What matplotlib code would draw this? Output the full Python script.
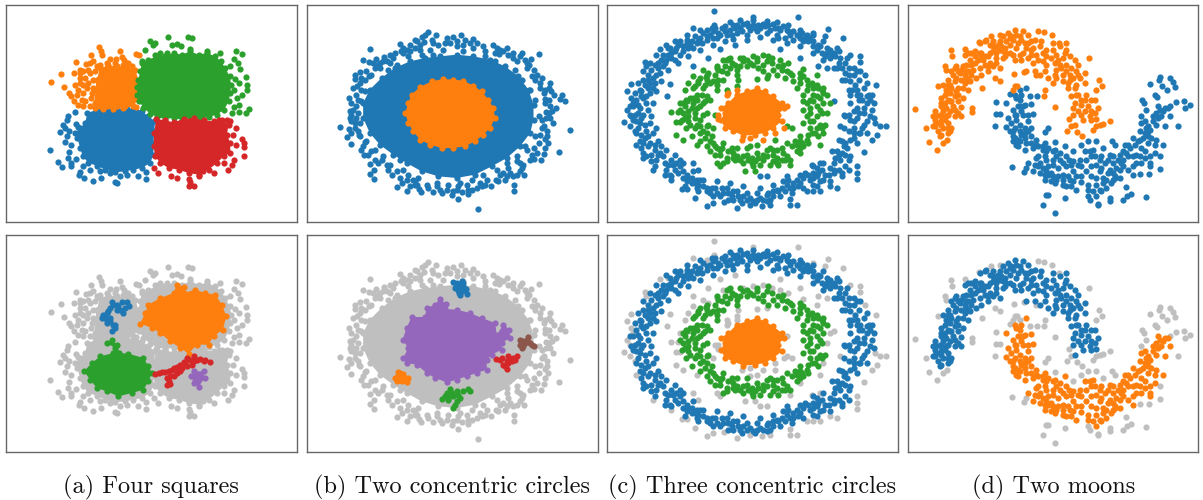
import numpy as np
from matplotlib import pyplot as plt

# all points, in the panel's own units (top left origin)
W = 1203
H = 500

captions = ["(a) Four squares", "(b) Two concentric circles", "(c) Three concentric circles", "(d) Two moons"]
caption_x = [151, 452, 752, 1054]

# Four squares: solid cores are outlines, the loose points are listed
sq_orange_core = [(300,205),(325,197),(350,200),(380,205),(405,210),(415,240),(415,270),(413,300),(400,320),(370,325),(340,328),(310,328),(285,325),(290,300),(285,270),(290,240)]
sq_orange = [(152,246),(183,224),(192,261),(229,187),(223,220),(273,166),(297,143),(302,155),(306,167),(361,155),(329,178),(349,178),(365,172),(372,180),(385,190),(408,163),(416,165),(258,193),(270,190),(280,185),(290,200),(240,210),(250,215),(265,210),(240,235),(255,235),(225,255),(207,280),(212,290),(222,305),(245,300),(272,295),(290,290),(235,270),(262,265),(250,320),(270,320),(300,320),(320,320),(350,320),(375,318),(408,322),(290,240),(280,265),(305,270),
    (240,220),(270,220),(285,215),(280,240),(265,250),(250,255),(240,250),(230,285),(250,280),(275,280),(255,305),(285,310),(235,315),(300,195),(320,190),(345,190),(370,195),(395,200)]
sq_green_core = [(425,190),(445,180),(470,170),(495,168),(520,160),(545,165),(570,155),(595,165),(620,160),(645,170),(662,185),(675,205),(688,230),(693,255),(690,280),(685,305),(672,330),(650,345),(625,352),(600,358),(570,352),(545,360),(520,355),(495,358),(470,352),(450,342),(430,325),(418,305),(412,285),(410,262),(415,240),(420,215)]
sq_green = [(502,111),(563,113),(576,115),(449,124),(465,130),(458,135),(516,137),(530,132),(542,140),(435,152),(570,147),(706,155),(725,164),(660,160),(620,155),(465,165),(480,160),(500,160),(700,178),(712,190),(720,207),(690,198),(736,232),(705,238),(715,250),(741,255),(739,272),(725,285),(710,295),(700,270),(745,327),(738,340),(715,315),(715,338),(700,322),(695,340),(425,185)]
sq_blue_core = [(262,340),(290,330),(320,328),(350,327),(380,328),(405,325),(425,335),(445,350),(465,365),(462,395),(460,430),(460,465),(450,490),(425,505),(400,510),(375,515),(345,518),(315,510),(290,498),(265,490),(248,470),(240,445),(232,415),(225,400),(240,385),(255,370)]
sq_blue = [(225,336),(205,350),(200,360),(188,377),(195,385),(180,398),(208,393),(227,372),(235,382),(200,410),(195,427),(212,435),(150,452),(206,458),(204,474),(228,478),(173,487),(213,490),(212,498),(187,503),(240,518),(236,527),(252,535),(279,544),(304,535),(345,548),(350,551),(360,528),(380,525),(415,530),(438,537),(437,516),(300,515),(330,520),(270,510),(250,500)]
sq_red_core = [(468,358),(495,362),(520,368),(550,358),(580,355),(610,362),(640,365),(665,360),(685,375),(680,405),(690,430),(690,460),(670,470),(650,490),(625,510),(595,525),(565,520),(535,510),(505,505),(480,490),(465,470),(460,440),(462,400)]
sq_red = [(708,384),(699,407),(725,418),(730,430),(732,441),(708,435),(731,468),(702,482),(695,495),(670,490),(682,512),(640,520),(608,515),(595,530),(565,538),(570,548),(565,558),(582,559),(530,535),(511,530),(472,520),(461,505),(680,360),(690,365),(655,360)]

# Four squares, clusters found
sq2_orange_core = [(530,165),(552,172),(552,190),(585,180),(615,190),(645,195),(665,225),(678,260),(668,300),(640,320),(625,345),(590,345),(565,372),(540,355),(510,335),(480,310),(455,295),(420,282),(435,250),(445,225),(480,205),(520,190)]
sq2_green_core = [(335,330),(350,345),(358,370),(385,372),(430,385),(445,410),(455,430),(445,455),(430,480),(395,490),(355,500),(320,485),(290,475),(270,450),(252,425),(275,400),(300,380),(340,370),(345,355),(320,340)]
sq2_purple_core = [(580,425),(610,425),(613,445),(595,472),(580,460),(573,440)]
sq2_blue = [(335,217),(350,225),(365,217),(380,217),(388,230),(370,250),(350,240),(330,235),(320,250),(307,265),(320,280),(345,287),(335,305),(315,265),(330,265),(325,245),(340,225),(360,240),(375,235),(340,285),(330,275),(345,295),(320,270),(310,255),(355,230)]
sq2_red = [(465,432),(485,428),(505,425),(520,415),(540,405),(560,385),(580,380),(600,387),(630,398),(560,410),(540,425),(520,440),(500,445),(500,465),(510,462),(580,395),(610,395),(545,415),(575,405),(475,430),(495,427),(515,420),(530,412),(550,398),(570,390),(590,390),(615,390),(555,400),(530,430),(510,440),(505,455)]

# Two circles
two_blue_core = [(210,270),(245,235),(285,205),(330,185),(375,175),(420,170),(470,165),(520,170),(570,180),(615,200),(655,230),(685,270),(700,315),(700,360),(690,400),(660,440),(620,475),(575,500),(525,525),(470,535),(415,530),(365,515),(320,490),(280,465),(240,435),(210,400),(190,355),(190,310)]
two_blue = [(385,97),(407,107),(365,113),(375,105),(459,113),(483,107),(519,117),(530,130),(345,122),(301,133),(330,137),(373,128),(578,136),(211,148),(302,155),(345,145),(415,135),(470,140),(620,145),(716,162),(665,160),(610,155),(596,162),(692,177),(253,172),(190,182),(207,186),(230,177),(232,195),(270,190),(225,205),(687,196),(700,211),(695,228),(180,217),(165,225),(165,238),(207,230),(720,250),(750,250),(747,265),(752,275),(172,258),(195,275),(170,285),(762,287),(785,287),(780,297),(795,303),(733,298),(147,295),(155,310),(168,320),(767,325),(736,336),(150,335),(155,345),(737,355),(757,370),(122,382),(810,390),(148,388),(155,400),(143,412),(179,407),(153,433),(740,395),(735,417),(743,430),(735,445),(195,428),(192,465),(776,458),(730,463),(702,477),(722,480),(211,494),(223,510),(212,524),(222,539),(669,497),(650,485),(672,527),(650,525),(640,530),(610,520),(588,540),(642,556),(642,575),(615,540),(573,560),(530,565),(290,563),(322,575),(330,560),(358,568),(363,578),(398,578),(300,535),(340,540),(265,510),(456,586),(475,598),(535,628),(485,578),(503,582),(440,570),
    (240,190),(280,175),(310,160),(330,155),(360,150),(390,150),(430,150),(450,130),(490,135),(520,145),(555,155),(585,160),(640,175),(660,170),(680,205),(705,240),(720,265),(735,310),(745,340),(730,380),(720,405),(700,445),(680,450),(660,490),(625,505),(600,525),(560,540),(540,550),(500,555),(460,575),(420,570),(380,555),(345,545),(310,510),(270,495),(245,480),(215,455),(190,440),(165,385),(155,365),(170,355),(185,270),(195,240),(215,225),(240,205),(260,185),
    (185,305),(175,340),(180,370),(200,425),(225,450),(250,470),(300,480),(325,525),(355,535),(410,550),(445,555),(480,550),(515,540),(550,525),(590,510),(620,490),(650,470),(675,440),(705,410),(715,350),(705,300),(690,270),(665,240),(645,210),(585,185),(555,170),(490,155),(400,165),(365,165),(325,170),(290,195),(265,210),(220,270),
    (175,300),(160,330),(165,370),(180,410),(205,465),(235,490),(260,495),(290,515),(320,540),(350,555),(385,565),(425,580),(470,570),(515,570),(555,555),(595,545),(630,520),(665,505),(695,465),(715,430),(725,385),(725,360),(750,320),(745,300),(730,280),(710,225),(680,190),(650,185),(625,165),(590,145),(550,140),(510,130),(470,125),(435,130),(400,130),(360,135),(320,150),(285,160),(250,185),(220,190),(200,215),(185,235),(160,265),(180,250),(150,355),(175,395),(185,450),(225,480),(275,525),(305,550),(345,555),(410,560),(475,560),(505,570),(545,560),(620,530),(660,515),(690,480),(710,460),(740,410),(750,355),(755,335),(735,270),(725,235),(675,180),(640,160),(600,150),(495,120),(440,115),(395,120),(350,125),(310,145),(270,165)]
two_orange_core = [(430,238),(460,240),(490,243),(520,258),(545,275),(565,300),(580,325),(585,355),(570,385),(550,405),(525,425),(495,440),(460,445),(425,445),(390,435),(360,420),(340,395),(325,370),(316,340),(325,310),(335,285),(360,262),(395,245)]

two2_purple_core = [(420,207),(437,222),(435,238),(470,240),(510,250),(545,265),(585,280),(590,315),(610,285),(628,300),(630,325),(605,340),(605,360),(575,375),(560,390),(560,420),(530,430),(500,440),(470,450),(440,458),(405,445),(380,430),(350,405),(320,400),(310,385),(325,355),(308,330),(320,295),(335,262),(375,262),(380,235),(405,225)]
two2_blue = [(459,157),(470,160),(485,155),(490,170),(475,180),(465,175),(497,178),(480,197),(502,194),(485,185),(470,165),(475,165),(480,175),(490,160),(478,190)]
two2_brown = [(660,330),(683,322),(690,340),(700,350),(665,355),(675,340),(670,335),(680,330),(695,345),(670,350),(660,345)]
two2_red = [(588,388),(605,385),(625,380),(650,378),(645,390),(625,400),(620,417),(610,405),(630,390),(600,390),(620,395),(640,385),(615,410),(635,395)]
two2_orange = [(295,427),(310,432),(325,445),(320,458),(305,455),(290,455),(293,440),(310,445),(300,430),(315,445),(300,450),(285,445)]
two2_green = [(450,478),(470,485),(490,485),(480,505),(470,515),(460,535),(445,510),(425,507),(440,490),(505,478),(510,485),(460,500),(455,490),(475,495),(450,500),(435,500),(465,525)]

# Three circles
three_outer = [(130,240),(145,225),(155,210),(175,190),(190,165),(210,145),(235,135),(260,120),(285,110),(310,100),(340,95),(365,85),(400,75),(430,72),(460,75),(490,72),(520,72),(550,80),(580,95),(605,100),(630,115),(660,140),(690,150),(715,155),(735,190),(760,205),(775,240),(790,265),(805,285),(820,310),(810,350),(790,375),(780,400),(760,415),(735,430),(725,460),(735,500),(700,520),(670,540),(640,520),(610,535),(580,550),(550,545),(530,570),(490,600),(450,595),(420,600),(395,590),(360,590),(320,575),(285,550),(260,545),(225,510),(200,510),(170,480),(140,470),(125,445),(135,415),(115,385),(105,345),(110,300),(120,270),
    (150,250),(170,225),(190,200),(215,175),(240,165),(265,145),(290,130),(320,120),(350,115),(380,105),(410,100),(440,105),(470,95),(500,100),(530,105),(555,115),(580,120),(610,125),(640,140),(665,160),(690,175),(715,190),(735,220),(750,245),(770,270),(785,300),(770,325),(745,345),(760,365),(745,395),(725,425),(710,455),(700,490),(665,510),(640,555),(650,530),(600,550),(570,565),(535,575),(500,585),(470,580),(440,580),(410,575),(380,565),(345,565),(310,560),(290,540),(260,525),(240,500),(215,480),(190,470),(165,450),(150,430),(160,400),(135,375),(130,345),(140,310),(150,280),
    (125,290),(135,255),(160,235),(175,205),(200,180),(225,155),(250,140),(275,125),(300,115),(330,105),(355,100),(390,90),(420,85),(450,90),(480,85),(510,90),(540,92),(570,105),(600,115),(625,125),(650,150),(680,160),(705,170),(725,205),(745,225),(765,255),(780,285),(800,310),(790,340),(770,355),(785,385),(760,400),(740,445),(720,480),(715,510),(685,525),(655,520),(625,525),(595,560),(560,555),(520,590),(480,595),(430,590),(400,600),(370,580),(330,580),(295,555),(275,535),(250,515),(230,490),(205,495),(180,460),(155,465),(145,440),(125,405),(110,365),(120,325),
    (100,320),(115,340),(130,295),(145,265),(165,250),(180,220),(195,190),(205,165),(225,180),(250,155),(240,125),(270,135),(295,125),(280,145),(305,130),(345,85),(375,95),(395,105),(405,85),(425,95),(445,80),(465,85),(495,80),(525,85),(535,115),(560,90),(590,105),(620,105),(640,125),(655,135),(675,170),(700,160),(720,175),(745,205),(760,225),(780,215),(755,270),(775,300),(800,290),(815,330),(800,365),(775,340),(750,360),(775,400),(750,420),(735,465),(715,465),(745,480),(725,520),(690,505),(675,525),(660,545),(630,540),(615,520),(590,540),(565,540),(545,565),(520,575),(510,600),(470,600),(440,600),(415,590),(385,580),(350,580),(335,565),(300,540),(275,550),(250,535),(235,520),(210,525),(195,490),(175,465),(155,485),(130,460),(130,430),(145,410),(120,370),(100,360),(115,315),(125,275),(140,290),(160,265),(145,240),(165,195),(185,180),(215,160),(230,145),(260,130),(320,110),(340,115),(360,105),(375,80),(410,75),(440,70),(475,75),(505,75),(535,85),(565,95),(595,105),(615,115),(680,145),(695,165),(710,205),(735,240),(750,285),(770,285),(790,325),(810,300),(760,335),(735,350),(760,385),(730,440),(705,475),(700,510),(650,505),(640,535),(580,565),(555,575),(505,580),(460,605),(400,575),(365,565),(320,565),(290,565),(265,535),(240,480),(220,495),(185,440),(165,435),(140,395),(150,370),(125,355),(145,330),
    (390,68),(420,62),(460,60),(500,65),(530,68),(565,75),(600,90),(640,105),(670,125),(710,145),(740,175),(770,215),(800,250),(815,285),
    (400,118),(440,122),(480,112),(520,120),(560,130),(600,140),(640,160),(670,180),(700,205),(725,240),(745,270),(750,310),(730,345),(730,385),(715,420),(695,455),(670,490),(640,500),(600,525),(560,530),(520,555),(480,565),(430,560),(390,550),(350,545),(310,540),(280,515),(250,490),(225,465),(200,450),(175,425),(170,385),(155,350),(160,310),(170,275),(185,245),(205,210),(235,190),(265,170),(300,150),(340,135),(375,125),
    (95,350),(90,320),(105,280),(115,250),(130,215),(150,190),(170,165),(200,135),(225,125),(260,105),(300,90),(335,85),(110,400),(120,425),(130,475),(165,500),(195,525),(215,530),(255,560),(295,575),(340,590),(385,600),(425,610),(465,610),(500,605),(540,590),(575,580),(610,565),(650,560),(690,545),(725,530),(745,510),(750,470),(770,430),(800,400),(820,355)]
three_outer_loose = [(341,34),(458,52),(595,53),(278,85),(341,77),(320,90),(683,88),(675,110),(727,116),(640,100),(181,148),(136,186),(140,200),(205,145),(405,135),(360,147),(325,175),(280,200),(540,147),(600,175),(655,198),(680,205),(750,165),(778,168),(780,187),(795,225),(827,257),(93,253),(81,274),(95,295),(100,310),(81,331),(73,366),(90,345),(92,380),(825,370),(840,378),(858,380),(830,405),(815,420),(105,395),(110,435),(790,458),(770,500),(770,520),(770,537),(710,565),(690,560),(660,575),(640,575),(620,575),(160,510),(215,540),(245,568),(262,568),(286,595),(320,618),(340,610),(372,607),(410,625),(450,615),(485,620),(510,615),(570,597),(590,616),(570,615),(718,380),(700,305),(210,252),(203,290),(635,495),(660,490),(278,490),(295,510),(500,530),(480,530)]
three_green = [(250,340),(255,320),(270,295),(290,285),(320,290),(330,300),(310,265),(300,235),(320,240),(350,270),(355,240),(345,225),(380,220),(410,225),(395,190),(430,185),(460,195),(490,195),(515,190),(490,215),(545,210),(575,225),(610,230),(640,265),(665,270),(650,290),(630,300),(610,285),(630,325),(650,320),(620,350),(650,350),(660,375),(630,385),(610,370),(600,410),(620,420),(590,435),(560,430),(550,460),(555,480),(520,465),(490,480),(470,460),(440,465),(420,480),(400,460),(380,475),(360,450),(330,425),(320,400),(300,380),(270,375),(255,355),(285,340),(300,320),(300,360),(280,310),(320,340),(340,430),(370,430),(410,445),(440,445),(500,450),(530,450),(510,445),(520,485),(480,495),(455,490),(430,490),(380,485),(285,355),(310,395),(325,375),(635,400),(600,445),(570,220),(600,250),(620,240),(580,245),(350,255),(330,250),(410,210),(440,200),(470,185),(520,210),(640,285),(670,280),(610,330),(315,305),(275,325),(265,350),(290,375),(350,445),(395,445),(465,485),(545,480),(585,425),(650,385),
    (260,305),(290,300),(310,310),(265,335),(290,325),(310,345),(265,365),(285,385),(300,400),(315,415),(345,440),(330,455),(360,465),(385,455),(410,470),(430,470),(455,475),(475,475),(500,470),(530,475),(545,445),(575,440),(605,430),(625,405),(645,400),(665,385),(640,365),(630,340),(660,330),(640,305),(660,295),(620,270),(650,255),(600,235),(590,265),(555,235),(530,225),(505,225),(475,205),(450,190),(420,200),(390,205),(365,215),(370,240),(340,245),(315,255),(295,250),(305,285),(280,295),(320,380),(335,410),(365,445),(405,480),(445,480),(490,465),(520,450),(535,495),(570,480),(610,440),(600,425),(630,365),(620,310),(610,305),(670,265),(655,265),(635,250),(625,255),(560,215),(535,200),(500,185),(440,180),(380,180),(405,195),(375,200),(355,210),(318,232),(295,245),(258,300),(248,310),
    (240,330),(245,360),(258,385),(275,410),(300,425),(320,440),(345,465),(370,490),(400,475),(460,500),(510,495),(560,470),(590,455),(625,430),(655,410),(675,375),(665,340),(670,310),(680,285),(600,220),(550,195),(505,170),(470,175),(420,175),(390,175),(350,200),(320,225),(285,260),(280,265)]
three_green_loose = [(213,336),(234,338),(228,368),(240,368),(228,406),(250,420),(240,310),(255,270),(265,250),(280,230),(308,212),(325,220),(350,205),(370,180),(385,178),(430,175),(460,170),(490,165),(515,175),(540,180),(565,190),(610,208),(652,225),(500,235),(470,238),(415,240),(690,310),(680,340),(670,400),(660,437),(575,385),(560,380),(525,420),(470,435),(450,440),(340,385),(350,490),(360,500),(435,513),(465,513),(600,460),(570,495),(530,490),(290,435),(410,260),(380,270),(345,345)]
three_orange_core = [(470,265),(495,275),(520,290),(545,310),(552,325),(535,345),(545,365),(520,385),(495,400),(465,405),(430,408),(400,395),(375,385),(362,360),(375,340),(362,325),(385,310),(410,285),(440,275)]
three_orange_loose = [(410,270),(385,280),(355,345),(355,357),(553,385),(525,400),(490,420),(425,420),(450,415),(560,320),(380,285)]

# Two moons
moon_top = [(100,380),(115,395),(130,385),(150,395),(105,360),(125,365),(145,370),(120,345),(140,350),(165,350),(185,350),(125,320),(140,325),(160,320),(185,322),(125,295),(145,300),(165,290),(190,295),(140,270),(155,265),(175,265),(205,270),(130,255),(165,245),(185,240),(210,245),(160,225),(180,220),(205,215),(230,235),(165,205),(190,200),(215,195),(245,225),(265,215),(210,180),(235,180),(255,195),(280,200),(225,155),(245,160),(265,170),(290,175),(300,150),(280,140),(320,160),(345,180),(255,125),(280,125),(300,125),(330,135),(325,100),(345,90),(340,120),(360,110),(385,105),(375,130),(350,145),(370,160),(385,175),(400,145),(425,125),(410,165),(430,160),(430,185),(460,150),(480,140),(455,175),(475,180),(500,150),(490,175),(525,180),(500,195),(470,210),(500,215),(530,215),(555,220),(520,235),(490,245),(420,225),(445,235),(460,250),(505,265),(530,255),(555,250),(515,290),(535,285),(560,285),(585,300),(520,325),(545,315),(565,320),(595,325),(545,345),(570,350),(590,358),(525,375),(330,160),(310,175),(290,160),(270,190),(240,205),(200,235),(175,285),(150,280),(135,310),(125,375),(305,140),(200,215),(185,210),(215,225),(145,345),(150,305),(105,378),(100,350),(120,410),(145,400),(365,180),(395,165),(440,150),(470,165),(510,240),(540,235),(465,225),(300,205),(380,215),(370,95),(130,335),(165,330),(245,170),(320,125),(335,110),
    (110,370),(135,360),(155,385),(110,350),(130,325),(150,335),(175,340),(135,285),(155,305),(175,305),(150,255),(170,235),(195,250),(145,240),(175,215),(195,225),(220,210),(200,195),(225,190),(240,160),(255,170),(225,170),(270,160),(280,155),(295,135),(315,145),(290,190),(315,170),(340,165),(355,130),(310,110),(330,115),(350,105),(365,120),(385,130),(395,125),(420,140),(440,170),(415,180),(400,190),(440,195),(465,190),(480,195),(510,170),(495,160),(515,205),(535,195),(490,225),(510,225),(535,225),(525,265),(505,250),(530,285),(545,300),(555,300),(575,300),(525,310),(555,335),(535,335),(575,335),(550,360),(575,360),(585,340),(520,345),(290,150),(310,155),(265,200),(250,180),(190,265),(205,240),(145,255),(170,275),(125,350),(145,385),(125,405),(460,130),(405,120),(395,150),(380,145),(360,165),(270,135),(260,120),(240,130),(215,160),(205,160),(195,165),(170,200),(155,215),(125,310),(105,335),(485,205),(470,235),(435,215),(405,215),(500,130)]
moon_top_loose = [(45,328),(79,385),(89,427),(111,452),(131,431),(143,421),(218,325),(218,338),(155,150),(158,170),(196,147),(135,200),(139,210),(115,260),(248,265),(285,236),(300,243),(344,222),(372,218),(410,225),(345,258),(352,258),(340,270),(416,94),(434,98),(456,107),(478,130),(568,174),(598,242),(606,260),(589,272),(435,272),(433,290),(466,322),(508,358),(531,397),(548,408),(515,380),(503,395),(580,390),(590,378),(610,372),(631,365),(600,375),(237,128),(275,110),(300,107)]
moon_low = [(378,265),(345,285),(320,310),(360,300),(375,315),(395,313),(340,330),(365,335),(400,342),(325,356),(350,360),(385,365),(320,382),(345,385),(375,385),(340,410),(365,405),(395,410),(350,435),(380,430),(410,420),(435,430),(355,420),(400,445),(430,450),(460,455),(495,440),(385,490),(410,475),(435,470),(460,480),(400,515),(420,520),(445,500),(475,505),(508,480),(435,540),(460,530),(490,525),(520,515),(465,550),(490,555),(520,545),(545,548),(530,570),(540,480),(560,480),(555,455),(580,450),(560,515),(590,495),(615,490),(565,570),(590,555),(610,535),(640,520),(660,535),(590,590),(600,570),(620,565),(635,550),(665,490),(685,510),(700,525),(630,465),(605,470),(660,465),(685,435),(705,435),(720,420),(745,410),(770,420),(790,435),(710,465),(735,455),(725,490),(750,500),(765,460),(700,415),(740,385),(720,395),(760,365),(735,365),(795,380),(770,340),(790,335),(810,350),(775,320),(795,325),(630,510),(650,505),(600,515),(575,530),(545,530),(470,470),(490,490),(510,540),(440,455),(375,450),(360,395),(355,320),(385,345),(345,415),(420,490),(455,520),(685,470),(710,490),(745,430),(725,370),(580,575),(610,550),(640,540),(670,500),(680,460),(750,470),(770,375),
    (350,295),(365,285),(370,345),(350,345),(335,370),(360,375),(340,395),(375,400),(355,440),(375,415),(395,430),(415,440),(445,445),(465,450),(440,480),(415,500),(430,505),(460,495),(480,480),(500,500),(515,495),(530,530),(505,530),(475,530),(445,525),(435,525),(470,540),(490,540),(545,500),(535,495),(575,500),(600,480),(625,480),(640,490),(605,505),(625,520),(645,535),(620,540),(590,535),(565,555),(605,575),(645,530),(660,510),(670,480),(670,455),(690,445),(700,470),(700,500),(725,445),(715,425),(730,415),(745,395),(755,415),(720,470),(735,475),(750,390),(760,350),(775,355),(785,350),(805,325),(780,330),(745,380),(735,400),(765,435),(750,490),(675,435),(655,480),(640,470),(570,455),(585,470),(575,470),(520,485),(500,470),(480,460),(430,440),(410,435),(360,425),(340,425),(330,395),(385,395),(370,320),(360,320),(345,345),(395,385),(415,470),(405,495),(440,515),(455,545),(500,560),(515,560)]
moon_low_loose = [(289,308),(288,344),(300,343),(287,380),(337,503),(372,518),(378,505),(360,270),(330,283),(413,290),(390,290),(438,585),(446,585),(429,617),(466,640),(496,596),(565,590),(570,600),(594,615),(595,614),(630,595),(632,604),(670,600),(683,590),(694,582),(740,591),(680,563),(720,522),(749,523),(781,508),(780,470),(835,380),(853,303),(855,325),(870,317),(830,307),(812,320),(780,232),(778,242),(812,235),(820,248),(825,262),(750,252),(788,258),(803,272),(765,285),(772,292),(728,300),(733,310),(740,330),(723,348),(445,385),(437,398),(465,428),(520,455),(545,435),(565,425),(590,425),(610,445),(637,425),(645,435)]

GRAY = "#bfbfbf"
DOT = 20


def dots(ax, pts, color):
    arr = np.array(pts)
    ax.scatter(arr[:, 0], arr[:, 1], s=DOT, color=color, linewidths=0)


def blob(ax, pts, color):
    # solid mass of overlapping dots: outline filled, dots on the outline
    arr = np.array(pts)
    ax.fill(arr[:, 0], arr[:, 1], color=color, lw=0)
    dots(ax, pts, color)


def make_axes(left, right, top, bottom, xlim):
    ax = fig.add_axes([left / W, 1 - bottom / H, (right - left) / W, (bottom - top) / H])
    ax.set_xlim(*xlim)
    ax.set_ylim(667, 16)
    ax.set_xticks([])
    ax.set_yticks([])
    for s in ax.spines.values():
        s.set_color("#666666")
        s.set_linewidth(1.0)
    return ax


fig = plt.figure(figsize=(W / 100, H / 100), dpi=100)

lefts = [6, 307, 607, 908]
rights = [297, 598, 898, 1198]
xlims = [(18, 890), (22, 893), (22, 893), (25, 895)]
axs = []
for top, bottom in [(5, 222), (235, 452)]:
    axs.append([make_axes(l, r, top, bottom, x) for l, r, x in zip(lefts, rights, xlims)])

# top row: ground truth
ax = axs[0][0]
blob(ax, sq_blue_core, "C0"); dots(ax, sq_blue, "C0")
blob(ax, sq_orange_core, "C1"); dots(ax, sq_orange, "C1")
blob(ax, sq_green_core, "C2"); dots(ax, sq_green, "C2")
blob(ax, sq_red_core, "C3"); dots(ax, sq_red, "C3")

ax = axs[0][1]
blob(ax, two_blue_core, "C0"); dots(ax, two_blue, "C0")
blob(ax, two_orange_core, "C1")

ax = axs[0][2]
dots(ax, three_outer + three_outer_loose, "C0")
dots(ax, three_green + three_green_loose, "C2")
blob(ax, three_orange_core, "C1"); dots(ax, three_orange_loose, "C1")

ax = axs[0][3]
dots(ax, moon_low + moon_low_loose, "C0")
dots(ax, moon_top + moon_top_loose, "C1")

# bottom row: clusters over gray noise
ax = axs[1][0]
for core in [sq_blue_core, sq_orange_core, sq_green_core, sq_red_core]:
    blob(ax, core, GRAY)
dots(ax, sq_blue + sq_orange + sq_green + sq_red, GRAY)
dots(ax, sq2_blue, "C0")
blob(ax, sq2_orange_core, "C1")
blob(ax, sq2_green_core, "C2")
dots(ax, sq2_red, "C3")
blob(ax, sq2_purple_core, "C4")

ax = axs[1][1]
blob(ax, two_blue_core, GRAY); dots(ax, two_blue, GRAY)
dots(ax, two2_blue, "C0")
dots(ax, two2_orange, "C1")
dots(ax, two2_green, "C2")
dots(ax, two2_red, "C3")
blob(ax, two2_purple_core, "C4")
dots(ax, two2_brown, "C5")

ax = axs[1][2]
dots(ax, three_outer_loose + three_green_loose + three_orange_loose, GRAY)
dots(ax, three_outer, "C0")
dots(ax, three_green, "C2")
blob(ax, three_orange_core, "C1")

ax = axs[1][3]
dots(ax, moon_top_loose + moon_low_loose, GRAY)
dots(ax, moon_top, "C0")
dots(ax, moon_low, "C1")

for text, x in zip(captions, caption_x):
    fig.text(x / W, 1 - 487 / H, text, family="cmr10", fontsize=17.5, ha="center", va="center", color="#111111")

fig.savefig("out.png", dpi=100)
